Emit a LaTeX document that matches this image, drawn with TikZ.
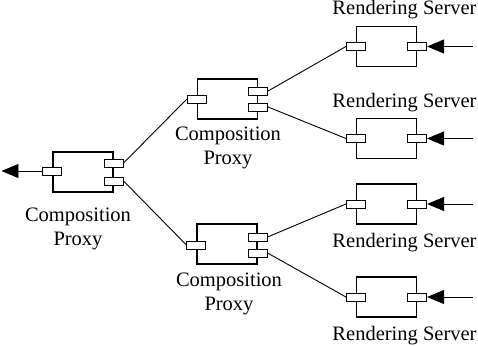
\documentclass[tikz,border=0pt]{standalone}
\usepackage{fontspec}
\setmainfont{Liberation Serif}
\usetikzlibrary{arrows.meta,positioning}

\begin{document}
\begin{tikzpicture}[
            x=1pt, y=-1pt,
            >={Triangle[length=17pt, width=14pt]},
            every node/.style={font=\fontsize{20.5}{24}\selectfont},
            compbox/.style={
                draw,
                line width=1.1pt,
                minimum width=60pt,
                minimum height=40pt,
                inner sep=0pt
            },
            portbox/.style={draw, fill=white, line width=1pt, minimum width=19pt, minimum height=8pt, inner sep=0pt},
            wire/.style={line width=0.9pt},
            lbl/.style={inner sep=0pt, align=center}
        ]
        \useasboundingbox (0,0) rectangle (478,345);

        %---------------- Composition proxies ----------------%
        \node[compbox] (proxyL) at (83,172) {};
        \node[compbox] (proxyU) at (227.5,99) {};
        \node[compbox] (proxyD) at (227,244) {};

        %---------------- Rendering servers ----------------%
        \node[compbox] (srvA) at (386.5,46.5) {};
        \node[compbox] (srvB) at (386.5,138.5) {};
        \node[compbox] (srvC) at (386.5,204) {};
        \node[compbox] (srvD) at (386.5,297) {};

        %---------------- Ports ----------------%
        \node[portbox] (pL-in) at ([yshift=1pt]proxyL.west) {};
        \node[portbox] (pL-o1) at ([yshift=9pt]proxyL.east) {};
        \node[portbox] (pL-o2) at ([yshift=-9pt]proxyL.east) {};

        \node[portbox] (pU-in) at (proxyU.west) {};
        \node[portbox] (pU-o1) at ([yshift=8pt]proxyU.east) {};
        \node[portbox] (pU-o2) at ([yshift=-8pt]proxyU.east) {};

        \node[portbox] (pD-in) at ([yshift=-1pt]proxyD.west) {};
        \node[portbox] (pD-o1) at ([yshift=7pt]proxyD.east) {};
        \node[portbox] (pD-o2) at ([yshift=-9pt]proxyD.east) {};

        \node[portbox] (sA-in) at (srvA.west) {};
        \node[portbox] (sA-out) at (srvA.east) {};
        \node[portbox] (sB-in) at (srvB.west) {};
        \node[portbox] (sB-out) at (srvB.east) {};
        \node[portbox] (sC-in) at (srvC.west) {};
        \node[portbox] (sC-out) at (srvC.east) {};
        \node[portbox] (sD-in) at (srvD.west) {};
        \node[portbox] (sD-out) at (srvD.east) {};

        %---------------- Labels ----------------%
        \node[lbl, anchor=north] (capL) at (78,207.5) {Composition\\Proxy};
        \node[lbl, anchor=north] (capU) at (228,126.5) {Composition\\Proxy};
        \node[lbl, anchor=north] (capD) at (229,272.5) {Composition\\Proxy};

        \node[lbl, anchor=base] (capA) at (404.5,15) {Rendering Server};
        \node[lbl, anchor=base] (capB) at (404.5,107) {Rendering Server};
        \node[lbl, anchor=base] (capC) at (404.5,247) {Rendering Server};
        \node[lbl, anchor=base] (capD2) at (404.5,340) {Rendering Server};

        %================ Tree connections =================%
        \draw[wire] (pL-o1.east) -- (pU-in.west);
        \draw[wire] (pL-o2.east) -- (pD-in.west);
        \draw[wire] (pU-o1.east) -- (sA-in.west);
        \draw[wire] (pU-o2.east) -- (sB-in.west);
        \draw[wire] (pD-o1.east) -- (sC-in.west);
        \draw[wire] (pD-o2.east) -- (sD-in.west);

        %================ Inputs and output =================%
        \coordinate (inA) at ([xshift=46pt]sA-out.east);
        \coordinate (inB) at ([xshift=46pt]sB-out.east);
        \coordinate (inC) at ([xshift=46pt]sC-out.east);
        \coordinate (inD) at ([xshift=46pt]sD-out.east);
        \coordinate (outL) at ([xshift=-41pt]pL-in.west);

        \draw[wire, ->] (inA) -- (sA-out);
        \draw[wire, ->] (inB) -- (sB-out);
        \draw[wire, ->] (inC) -- (sC-out);
        \draw[wire, ->] (inD) -- (sD-out);
        \draw[wire, ->] (pL-in) -- (outL);

        \end{tikzpicture}
\end{document}
